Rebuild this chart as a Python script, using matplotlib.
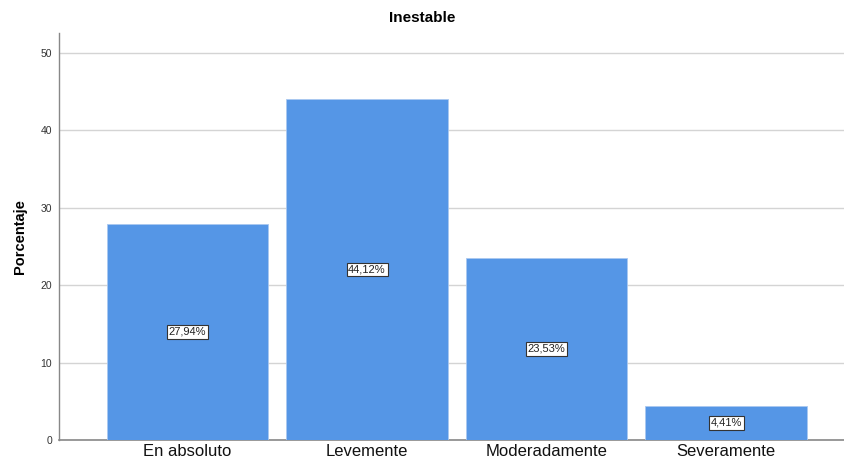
import matplotlib
matplotlib.use("Agg")
import matplotlib.pyplot as plt

categories = ["En absoluto", "Levemente", "Moderadamente", "Severamente"]
values = [27.94, 44.12, 23.53, 4.41]
labels = ["27,94%", "44,12%", "23,53%", "4,41%"]
yticks = [0, 10, 20, 30, 40, 50]

plt.rcParams['font.family'] = ['Liberation Sans', 'DejaVu Sans']

fig = plt.figure(figsize=(8.44, 4.61), dpi=100)
ax = fig.add_axes([0.0699, 0.0456, 0.93, 0.8828])

x = range(len(categories))
bars = ax.bar(x, values, width=0.9, color="#5596E6", edgecolor="#a9c8f0", linewidth=0.6, zorder=3)
for xi, v, lab in zip(x, values, labels):
    ax.text(xi, v / 2, lab, ha="center", va="center", fontsize=8, color="#222222", zorder=4,
            bbox=dict(boxstyle="square,pad=0.15", facecolor="white", edgecolor="#333333", linewidth=0.8))

ax.set_xlim(-0.715, 3.655)
ax.set_ylim(0, 52.6)
ax.set_yticks(yticks)
ax.set_yticklabels([str(t) for t in yticks], fontsize=7.5, color="#333333")
ax.set_xticks(list(x))
ax.set_xticklabels(categories, fontsize=12, color="#111111")
ax.tick_params(axis="x", length=0, pad=3)
ax.tick_params(axis="y", length=0, pad=5)
ax.yaxis.grid(True, color="#d4d4d4", linewidth=1.0, zorder=0)
ax.set_axisbelow(True)
for s in ["top", "right"]:
    ax.spines[s].set_visible(False)
ax.spines["left"].set_color("#888888")
ax.spines["bottom"].set_color("#888888")
ax.spines["left"].set_linewidth(1.0)
ax.spines["bottom"].set_linewidth(1.2)

ax.set_ylabel("Porcentaje", fontsize=10.5, fontweight="bold", labelpad=10)
fig.text(0.5, 0.96, "Inestable", ha="center", va="center", fontsize=11, fontweight="bold")

fig.savefig("out.png", dpi=100)
